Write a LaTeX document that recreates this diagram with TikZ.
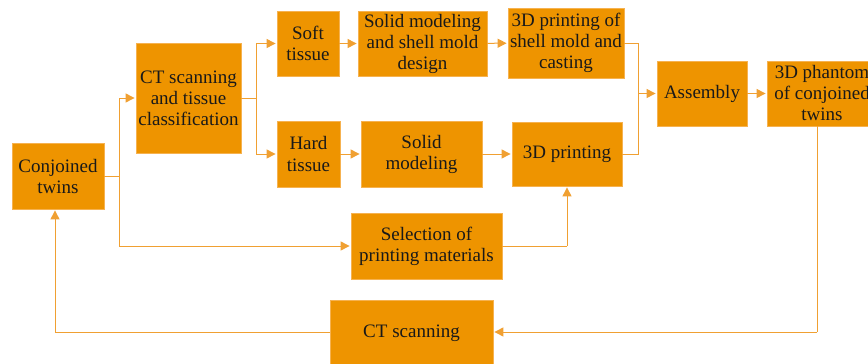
\documentclass[tikz,border=0pt]{standalone}
\usepackage{fontspec}
\setmainfont{Liberation Serif}
\usetikzlibrary{arrows.meta}
\definecolor{boxfill}{RGB}{238,148,0}
\definecolor{boxedge}{RGB}{246,178,80}
\definecolor{wire}{RGB}{240,160,50}
\tikzset{
  stage/.style={draw=boxedge, line width=0.8pt, fill=boxfill, inner sep=0pt,
    align=center, font=\fontsize{19}{21}\selectfont, text=black!90},
  link/.style={draw=wire, line width=1pt,
    -{Triangle[length=9pt,width=9pt]}, shorten >=1pt},
  plain/.style={draw=wire, line width=1pt}
}
\begin{document}
\begin{tikzpicture}[x=1pt,y=-1pt]
\useasboundingbox (0,0) rectangle (868,364);
\clip (0,0) rectangle (868,364);
% process stages
\node[stage, minimum width=92, minimum height=66] (twins) at (58,176) {Conjoined\\twins};
\node[stage, minimum width=105, minimum height=110] (ct) at (188.5,98) {CT scanning\\and tissue\\classification};
\node[stage, minimum width=62, minimum height=65] (soft) at (308,43.5) {Soft\\tissue};
\node[stage, minimum width=129, minimum height=65] (shell) at (422.5,43.5) {Solid modeling\\and shell mold\\design};
\node[stage, minimum width=116, minimum height=70] (cast) at (566,43) {3D printing of\\shell mold and\\casting};
\node[stage, minimum width=63, minimum height=66] (hard) at (308.5,154) {Hard\\tissue};
\node[stage, minimum width=121, minimum height=66] (solid) at (421.5,154) {Solid\\modeling};
\node[stage, minimum width=110, minimum height=64] (print) at (567,154) {3D printing};
\node[stage, minimum width=90, minimum height=65] (asm) at (702,93.5) {Assembly};
\node[stage, minimum width=110, minimum height=65] (phantom) at (822,93.5) {3D phantom\\of conjoined\\twins};
\node[stage, minimum width=151, minimum height=66] (select) at (426.5,246) {Selection of\\printing materials};
\node[stage, minimum width=163, minimum height=66] (scan) at (411.5,333) {CT scanning};
% branch points
\coordinate (j1) at (119,176);
\coordinate (j2) at (256,98);
\coordinate (j3) at (638,93.5);
\coordinate (j4) at (567,246);
\coordinate (j5) at (817,332);
\coordinate (j6) at (55,332);
% connectors
\draw[plain] (twins.east) -- (j1);
\draw[link] (j1) |- (ct.west);
\draw[link] (j1) |- (select.west);
\draw[plain] (ct.east) -- (j2);
\draw[link] (j2) |- (soft.west);
\draw[link] (j2) |- (hard.west);
\draw[link] (soft) -- (shell);
\draw[link] (shell) -- (cast);
\draw[link] (hard) -- (solid);
\draw[link] (solid) -- (print);
\draw[plain] (cast.east) -| (j3);
\draw[plain] (print.east) -| (j3);
\draw[link] (j3) -- (asm.west);
\draw[link] (asm) -- (phantom);
\draw[plain] (select.east) -- (j4);
\draw[link] (j4) -- (print.south);
\draw[plain] (phantom.south -| j5) -- (j5);
\draw[link] (j5) -- (scan.east |- j5);
\draw[plain] (scan.west |- j6) -- (j6);
\draw[link] (j6) -- (twins.south -| j6);
\end{tikzpicture}
\end{document}
